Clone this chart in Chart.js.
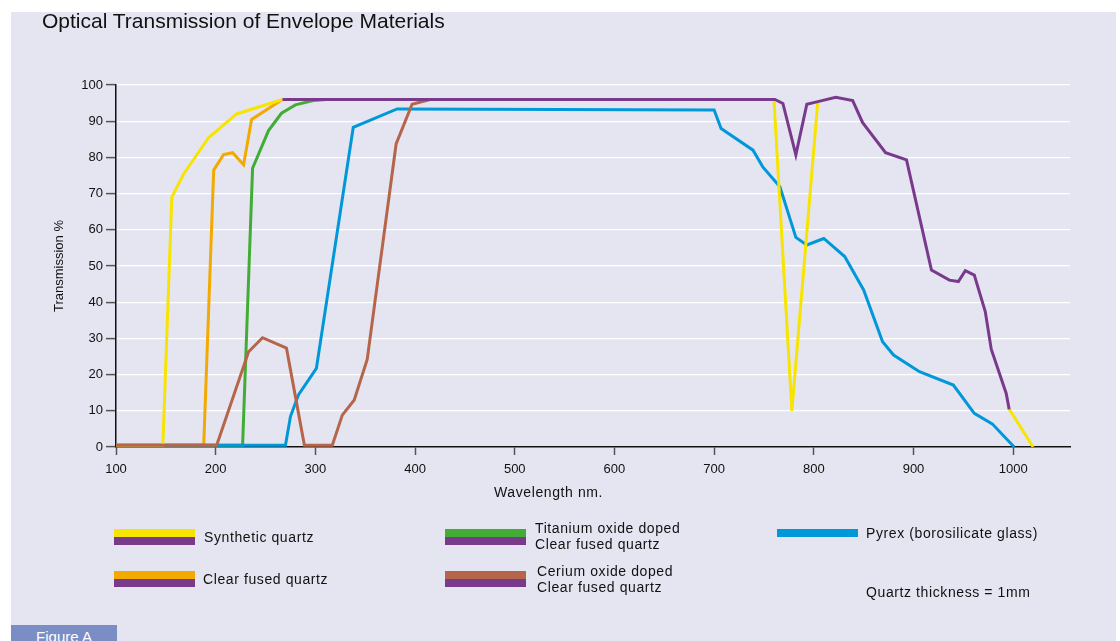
<!DOCTYPE html>
<html>
<head>
<meta charset="utf-8">
<script src="https://cdn.jsdelivr.net/npm/chart.js@4.4.0/dist/chart.umd.min.js"></script>
<style>
  body { margin: 0; background: #fff; font-family: "Liberation Sans", Arial, sans-serif; }
  #panel { position: absolute; left: 11px; top: 12px; width: 1105px; height: 629px; background: #e5e5f1; }
  #wrap { position: absolute; left: 0; top: 0; width: 1120px; height: 641px; }
  .t { position: absolute; color: #111; white-space: nowrap; }
  .sw { position: absolute; width: 81px; }
  .sw div { height: 8px; }
  #title { left: 42px; top: 9px; font-size: 21px; }
  #xtitle { left: 494px; top: 484px; font-size: 14px; letter-spacing: 0.6px; }
  .lg { font-size: 14px; line-height: 16px; letter-spacing: 0.6px; }
  #fig { position: absolute; left: 11px; top: 625px; width: 106px; height: 16px; background: #7a8dc5; color: #fff; font-size: 15px; text-align: center; line-height: 23px; overflow: hidden; }
</style>
</head>
<body>
<div id="panel"></div>
<div id="wrap"><canvas id="chart" width="1120" height="641"></canvas></div>
<div class="t" id="title">Optical Transmission of Envelope Materials</div>
<div class="t" id="xtitle">Wavelength nm.</div>

<div class="sw" style="left:114px; top:529px"><div style="background:#f7e400"></div><div style="background:#7a3a8c"></div></div>
<div class="t lg" style="left:204px; top:529px">Synthetic quartz</div>
<div class="sw" style="left:114px; top:571px"><div style="background:#f2a900"></div><div style="background:#7a3a8c"></div></div>
<div class="t lg" style="left:203px; top:571px">Clear fused quartz</div>

<div class="sw" style="left:445px; top:529px"><div style="background:#41ad34"></div><div style="background:#7a3a8c"></div></div>
<div class="t lg" style="left:535px; top:520px">Titanium oxide doped<br>Clear fused quartz</div>
<div class="sw" style="left:445px; top:571px"><div style="background:#b5654a"></div><div style="background:#7a3a8c"></div></div>
<div class="t lg" style="left:537px; top:563px">Cerium oxide doped<br>Clear fused quartz</div>

<div class="sw" style="left:777px; top:529px"><div style="background:#0098d8"></div></div>
<div class="t lg" style="left:866px; top:525px">Pyrex (borosilicate glass)</div>
<div class="t lg" style="left:866px; top:584px">Quartz thickness = 1mm</div>

<div id="fig">Figure A</div>

<script>
// wavelength (nm) / transmission (%); null = gap in the line
const synthX = [100, 147, 156, 168, 193, 221, 267, 500, 760, 778, 804, 900, 996, 1020];
const synthY = [0.5, 0.5, 69, 75.5, 85.5, 92, 96, null, 96, 10, 95.5, null, 10.5, 0];

const fusedX = [100, 188, 198, 208, 217, 228, 236, 267];
const fusedY = [0.5, 0.5, 76.5, 80.8, 81.3, 78, 90.5, 96];

const titanX = [100, 227, 237, 253, 266, 280, 298, 311];
const titanY = [0.5, 0.5, 77, 87.4, 92.2, 94.5, 95.7, 96];

const ceriumX = [100, 201, 233, 247, 271, 289, 317, 327, 339, 352, 381, 397, 415];
const ceriumY = [0.5, 0.5, 26.3, 30.2, 27.3, 0.5, 0.5, 8.8, 13, 24.2, 83.7, 94.7, 96];

const pyrexX = [100, 270, 275, 283, 301, 338, 382, 700, 707, 739, 749, 766, 782, 793, 810, 831, 850, 869, 880, 906, 940, 961, 979, 1001];
const pyrexY = [0.5, 0.5, 8.4, 14.4, 21.7, 88.3, 93.4, 93.1, 88, 82, 77.3, 71.9, 57.9, 55.8, 57.6, 52.6, 43.4, 29.1, 25.4, 20.8, 17.1, 9.3, 6.4, 0];

// shared curve for all quartz types
const quartzX = [267, 761, 769, 782, 793, 804, 822, 839, 849, 872, 893, 918, 936, 945, 952, 961, 972, 978, 993, 996];
const quartzY = [96, 96, 94.9, 80.7, 94.7, 95.4, 96.6, 95.7, 89.6, 81.3, 79.3, 48.9, 46.1, 45.7, 48.7, 47.5, 37.4, 27, 14.8, 10.4];

const yTicks = [0, 10, 20, 30, 40, 50, 60, 70, 80, 90, 100];

function pts(xs, ys) {
    return xs.map((x, i) => ({ x: x, y: ys[i] }));
}

function line(label, xs, ys, color, order) {
    return {
        label: label,
        data: pts(xs, ys),
        borderColor: color,
        borderWidth: 3,
        pointRadius: 0,
        tension: 0,
        fill: false,
        order: order
    };
}

const ctx = document.getElementById('chart');
new Chart(ctx, {
    type: 'line',
    data: {
        datasets: [
            line('Quartz (common)', quartzX, quartzY, '#7a3a8c', 0),
            line('Cerium oxide doped', ceriumX, ceriumY, '#b5654a', 1),
            line('Synthetic quartz', synthX, synthY, '#f7e400', 2),
            line('Pyrex (borosilicate glass)', pyrexX, pyrexY, '#0098d8', 3),
            line('Titanium oxide doped', titanX, titanY, '#41ad34', 4),
            line('Clear fused quartz', fusedX, fusedY, '#f2a900', 5)
        ]
    },
    options: {
        responsive: false,
        animation: false,
        layout: {
            padding: { left: 52, right: 50, top: 85, bottom: 164 }
        },
        plugins: {
            legend: { display: false },
            tooltip: { enabled: false }
        },
        scales: {
            x: {
                type: 'linear',
                min: 100,
                max: 1057,
                afterFit: (s) => { s.height = 30; },
                ticks: {
                    stepSize: 100,
                    includeBounds: false,
                    color: '#111',
                    padding: 7,
                    maxRotation: 0,
                    callback: (v) => String(v),
                    font: { family: 'Liberation Sans', size: 13 }
                },
                grid: {
                    drawOnChartArea: false,
                    drawTicks: true,
                    tickLength: 8,
                    tickColor: '#555',
                    tickWidth: 1.5
                },
                border: { display: true, color: '#111', width: 1.5 }
            },
            y: {
                min: 0,
                max: 100,
                afterFit: (s) => { s.width = 64; },
                afterBuildTicks: (s) => { s.ticks = yTicks.map(v => ({ value: v })); },
                ticks: {
                    color: '#111',
                    padding: 3,
                    font: { family: 'Liberation Sans', size: 13 }
                },
                grid: {
                    color: '#ffffff',
                    lineWidth: 1.2,
                    drawTicks: true,
                    tickLength: 10,
                    tickColor: '#555',
                    tickWidth: 1.5
                },
                border: { display: true, color: '#111', width: 1.5 },
                title: {
                    display: true,
                    text: 'Transmission %',
                    color: '#111',
                    padding: { top: 0, bottom: 0 },
                    font: { family: 'Liberation Sans', size: 13 }
                }
            }
        }
    }
});
</script>
</body>
</html>
